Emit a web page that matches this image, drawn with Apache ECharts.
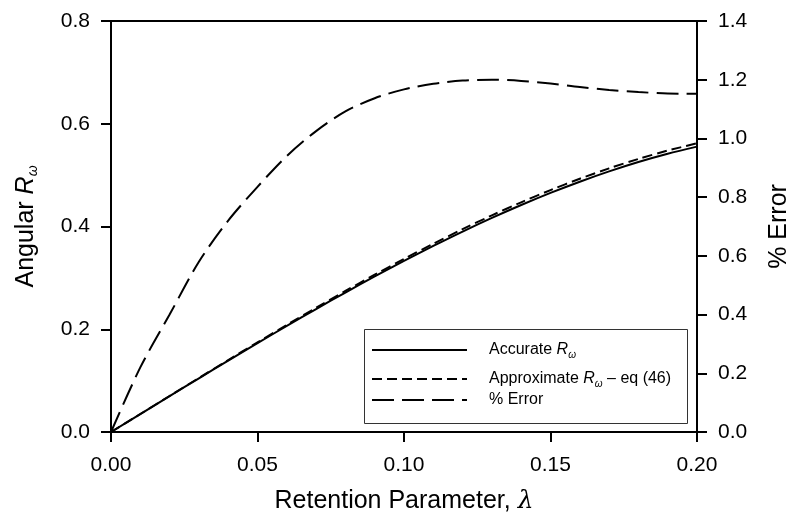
<!DOCTYPE html>
<html>
<head>
<meta charset="utf-8">
<script src="https://cdn.jsdelivr.net/npm/echarts@6/dist/echarts.min.js"></script>
<style>html,body{margin:0;padding:0;background:#fff}#c{width:800px;height:531px}</style>
</head>
<body>
<div id="c"></div>
<script>
// Retention parameter lambda
var lambdaVals = [0.00,0.01,0.02,0.03,0.04,0.05,0.06,0.07,0.08,0.09,0.10,0.11,0.12,0.13,0.14,0.15,0.16,0.17,0.18,0.19,0.20];
// Accurate R_omega (left axis)
var accurateR = [0,0.0349,0.0698,0.1045,0.1390,0.1730,0.2065,0.2394,0.2715,0.3027,0.3330,0.3621,0.3901,0.4167,0.4418,0.4654,0.4872,0.5073,0.5255,0.5416,0.5555];
// Approximate R_omega - eq (46) (left axis)
var approxR = [0,0.0350,0.0701,0.1052,0.1400,0.1744,0.2085,0.2418,0.2745,0.3062,0.3369,0.3664,0.3948,0.4217,0.4471,0.4709,0.4930,0.5132,0.5315,0.5478,0.5619];
// % Error (right axis)
var pctError = [0,0.22,0.40,0.58,0.72,0.835,0.94,1.025,1.092,1.137,1.167,1.186,1.197,1.200,1.196,1.187,1.175,1.165,1.158,1.153,1.152];

var leftTicks = {min:0, max:0.8, interval:0.2};
var rightTicks = {min:0, max:1.4, interval:0.2};
var xTicks = {min:0, max:0.2, interval:0.05};

function pairs(xs, ys){ return xs.map(function(x,i){ return [x, ys[i]]; }); }

var FONT = 'Arial, "Liberation Sans", sans-serif';
var chart = echarts.init(document.getElementById('c'), null, {renderer:'canvas'});

var axisCommon = {
  axisLine:{show:true, lineStyle:{color:'#000', width:2}},
  axisTick:{show:true, inside:false, length:10, lineStyle:{color:'#000', width:2}},
  splitLine:{show:false},
  axisLabel:{color:'#000', fontSize:21, fontFamily:FONT}
};

var nameRich = {
  t:{fontSize:25, fontFamily:FONT, color:'#000'},
  i:{fontSize:25, fontFamily:FONT, fontStyle:'italic', color:'#000'},
  s:{fontSize:14, fontFamily:FONT, fontStyle:'italic', color:'#000', padding:[14,0,0,0]}
};
var legRich = {
  t:{fontSize:16, fontFamily:FONT, color:'#000'},
  i:{fontSize:16, fontFamily:FONT, fontStyle:'italic', color:'#000'},
  s:{fontSize:10, fontFamily:FONT, fontStyle:'italic', color:'#000', padding:[10,0,0,0]}
};

var legendTexts = {
  'Accurate':'{t|Accurate }{i|R}{s|ω}',
  'Approximate':'{t|Approximate }{i|R}{s|ω}{t| – eq (46)}',
  'Error':'{t|% Error}'
};
function mkLegend(name, top){
  return {
    data:[name], left:371, top:top, orient:'horizontal',
    itemWidth:95, itemHeight:12, padding:0, itemGap:0,
    selectedMode:false,
    itemStyle:{opacity:0},
    formatter:function(n){ return legendTexts[n]; },
    textStyle:{fontSize:16, fontFamily:FONT, color:'#000', padding:[0,0,0,17], rich:legRich}
  };
}

var option = {
  backgroundColor:'#fff',
  animation:false,
  grid:{left:111, right:103, top:21, bottom:99, show:true, borderColor:'#000', borderWidth:2, backgroundColor:'transparent'},
  legend:[mkLegend('Accurate', 342), mkLegend('Approximate', 371), mkLegend('Error', 392)],
  graphic:[{type:'rect', left:362, top:327, shape:{width:323, height:94}, style:{fill:'none', stroke:'#333', lineWidth:1}, z:1}],
  xAxis:Object.assign({}, axisCommon, {
    type:'value', min:xTicks.min, max:xTicks.max, interval:xTicks.interval,
    axisLabel:Object.assign({}, axisCommon.axisLabel, {margin:23, formatter:function(v){return v.toFixed(2);}}),
    name:'Retention Parameter, {i|λ}', nameLocation:'middle', nameGap:57,
    nameTextStyle:{fontSize:25, fontFamily:FONT, color:'#000', rich:{i:{fontSize:25, fontStyle:'italic', fontFamily:'"DejaVu Serif", serif', color:'#000'}}}
  }),
  yAxis:[
    Object.assign({}, axisCommon, {
      type:'value', position:'left', min:leftTicks.min, max:leftTicks.max, interval:leftTicks.interval,
      axisLabel:Object.assign({}, axisCommon.axisLabel, {margin:21, formatter:function(v){return v.toFixed(1);}}),
      name:'{t|Angular }{i|R}{s|ω}', nameLocation:'middle', nameGap:71, nameRotate:90,
      nameTextStyle:{rich:nameRich}
    }),
    Object.assign({}, axisCommon, {
      type:'value', position:'right', min:rightTicks.min, max:rightTicks.max, interval:rightTicks.interval,
      axisLabel:Object.assign({}, axisCommon.axisLabel, {margin:21, formatter:function(v){return v.toFixed(1);}}),
      name:'% Error', nameLocation:'middle', nameGap:70, nameRotate:90,
      nameTextStyle:{fontSize:25, fontFamily:FONT, color:'#000'}
    })
  ],
  series:[
    {name:'Accurate', type:'line', yAxisIndex:0, data:pairs(lambdaVals, accurateR), smooth:0.3,
     showSymbol:false, symbol:'none', lineStyle:{color:'#000', width:2, type:'solid'}, itemStyle:{color:'#000'}},
    {name:'Approximate', type:'line', yAxisIndex:0, data:pairs(lambdaVals, approxR), smooth:0.3,
     showSymbol:false, symbol:'none', lineStyle:{color:'#000', width:2, type:[10,5]}, itemStyle:{color:'#000'}},
    {name:'Error', type:'line', yAxisIndex:1, data:pairs(lambdaVals, pctError), smooth:0.3,
     showSymbol:false, symbol:'none', lineStyle:{color:'#000', width:2, type:[22,8]}, itemStyle:{color:'#000'}}
  ]
};
chart.setOption(option);
</script>
</body>
</html>
